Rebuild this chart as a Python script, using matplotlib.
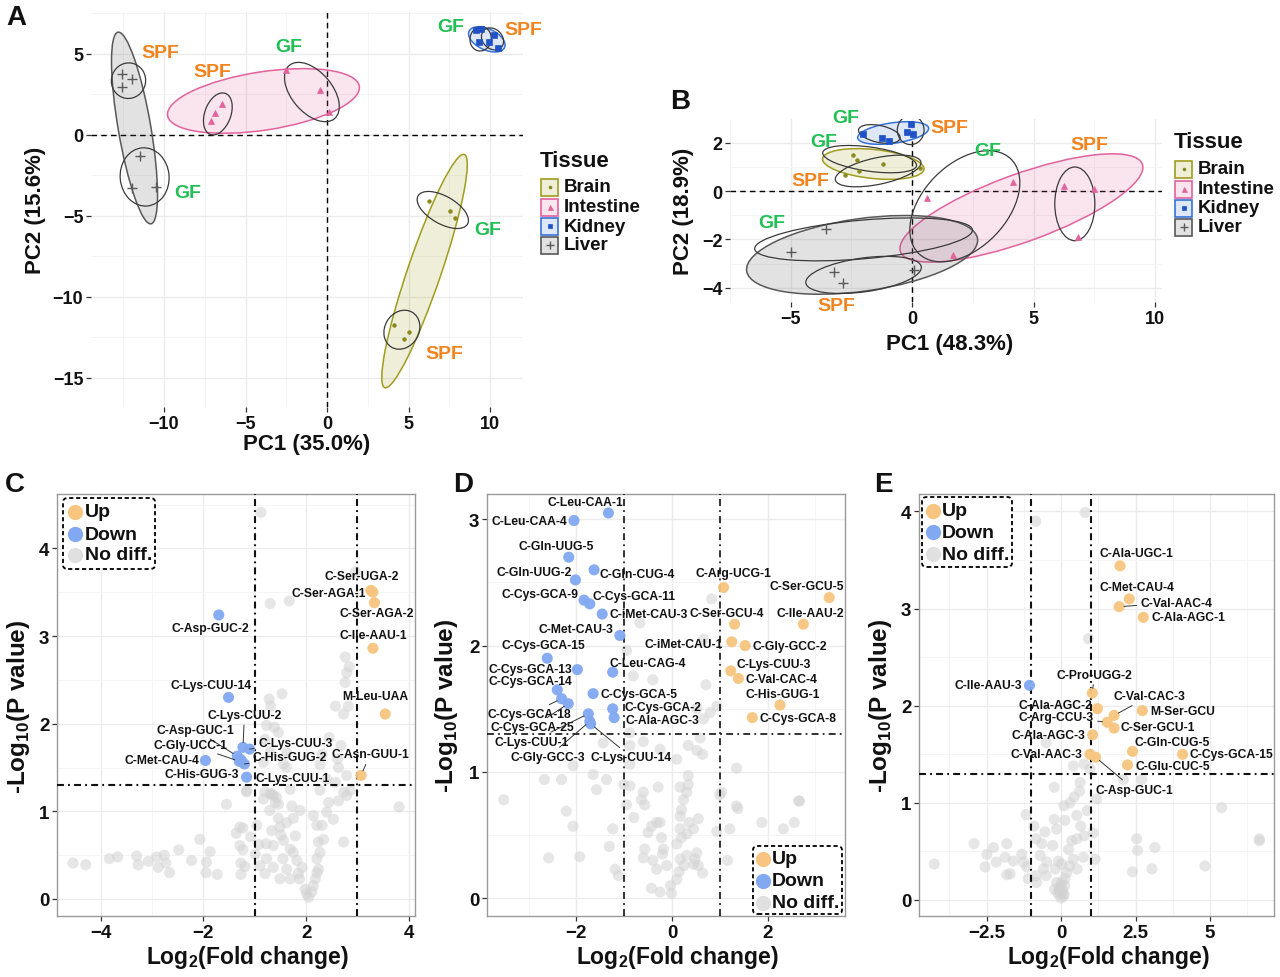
import matplotlib
matplotlib.use('Agg')
import matplotlib.pyplot as plt
from matplotlib.patches import Ellipse, FancyBboxPatch, Rectangle
from matplotlib.lines import Line2D
from matplotlib.colors import to_rgba

plt.rcParams['font.family'] = ['Liberation Sans', 'DejaVu Sans']
plt.rcParams['mathtext.fontset'] = 'custom'
plt.rcParams['mathtext.rm'] = 'Liberation Sans'
plt.rcParams['mathtext.bf'] = 'Liberation Sans:bold'
plt.rcParams['lines.scale_dashes'] = False

# ------------------------------------------------------------------ data
tissues = ['Brain', 'Intestine', 'Kidney', 'Liver']

# Panel A (PC1 35.0%, PC2 15.6%)
a_brain_x = [6.23, 7.56, 7.87, 4.12, 5.01, 4.71]
a_brain_y = [-4.09, -4.71, -5.12, -11.71, -12.18, -12.59]
a_int_x = [-6.44, -6.90, -7.12, -2.50, -0.46, 0.10]
a_int_y = [1.91, 1.36, 0.86, 4.01, 2.78, 1.40]
a_kid_x = [9.14, 9.45, 9.33, 9.94, 10.49, 10.25]
a_kid_y = [6.48, 6.54, 5.74, 5.74, 5.37, 6.17]
a_liv_x = [-12.56, -11.96, -12.58, -11.46, -11.96, -10.49]
a_liv_y = [3.77, 3.44, 2.96, -1.28, -3.27, -3.23]
# tissue ellipses: centre x, centre y, width, height, angle
a_big_cx = [5.98, -3.9, 9.8, -11.81]
a_big_cy = [-8.4, 2.1, 5.9, 0.43]
a_big_w = [15.2, 11.9, 2.4, 12.0]
a_big_h = [2.05, 3.6, 1.3, 2.0]
a_big_ang = [71.3, 8.75, -25, 99.7]
# group (GF / SPF) ellipses
a_sub_cx = [7.1, 4.59, -0.93, -6.7, 9.42, 10.15, -11.19, -12.18]
a_sub_cy = [-4.63, -12.02, 2.65, 1.3, 5.93, 5.93, -2.59, 3.35]
a_sub_w = [3.5, 2.5, 4.3, 2.7, 1.5, 1.5, 3.0, 2.2]
a_sub_h = [1.7, 2.1, 2.5, 1.6, 1.3, 1.2, 3.6, 2.1]
a_sub_ang = [-30, 60, -50, 70, 80, -45, 5, 80]
a_lab_text = ['SPF', 'GF', 'SPF', 'GF', 'GF', 'SPF', 'GF', 'SPF']
a_lab_x = [-10.24, -8.53, -7.06, -2.33, 7.6, 12.02, 9.85, 7.18]
a_lab_y = [5.12, -3.52, 3.89, 5.49, 6.67, 6.54, -5.86, -13.46]

# Panel B (PC1 48.3%, PC2 18.9%)
b_brain_x = [-2.45, -2.27, -1.18, -2.19, -2.76, 0.33]
b_brain_y = [1.50, 1.29, 1.12, 0.84, 0.66, 0.96]
b_int_x = [0.63, 4.16, 1.70, 6.26, 7.47, 6.82]
b_int_y = [-0.30, 0.38, -2.63, 0.22, 0.08, -1.89]
b_kid_x = [-2.02, -1.23, -0.97, -0.22, -0.06, 0.04]
b_kid_y = [2.38, 2.18, 2.05, 2.45, 2.77, 2.36]
b_liv_x = [-3.54, -5.00, -3.21, -2.86, 0.08]
b_liv_y = [-1.57, -2.53, -3.33, -3.80, -3.26]
b_big_cx = [-1.6, 4.5, -0.78, -2.06]
b_big_cy = [1.12, -0.7, 2.4, -2.64]
b_big_w = [4.2, 10.6, 2.95, 9.6]
b_big_h = [1.2, 2.8, 0.85, 3.0]
b_big_ang = [-6, 20, 8, 8]
b_sub_cx = [-1.75, -1.4, 2.17, 6.7, -1.35, -0.06, -2.0, -2.0]
b_sub_cy = [1.32, 0.83, -0.63, -0.53, 2.36, 2.52, -2.0, -3.47]
b_sub_w = [3.9, 3.6, 5.45, 1.65, 1.75, 1.1, 9.0, 4.8]
b_sub_h = [1.0, 1.1, 3.46, 3.05, 0.7, 1.2, 1.6, 1.4]
b_sub_ang = [-8, 12, 46, 0, -12, 0, 5, 8]
b_lab_text = ['GF', 'SPF', 'GF', 'SPF', 'GF', 'SPF', 'GF', 'SPF']
b_lab_x = [-2.72, 1.55, -3.65, -4.19, 3.13, 7.28, -5.77, -3.12]
b_lab_y = [3.05, 2.63, 2.04, 0.43, 1.69, 1.94, -1.29, -4.74]

# Panel C volcano
c_up_names = ['C-Ser-UGA-2', 'C-Ser-AGA-1', 'C-Ser-AGA-2', 'C-Ile-AAU-1', 'M-Leu-UAA', 'C-Asn-GUU-1']
c_up_x = [1.26, 1.30, 1.33, 1.30, 1.54, 1.07]
c_up_y = [3.52, 3.50, 3.38, 2.86, 2.11, 1.41]
c_down_names = ['C-Asp-GUC-2', 'C-Lys-CUU-14', 'C-Met-CAU-4', 'C-Lys-CUU-2', 'C-Lys-CUU-3',
                'C-Asp-GUC-1', 'C-Gly-UCC-1', 'C-His-GUG-2', 'C-His-GUG-3', 'C-Lys-CUU-1']
c_down_x = [-1.70, -1.51, -1.96, -1.23, -1.10, -1.34, -1.30, -1.20, -1.27, -1.16]
c_down_y = [3.24, 2.30, 1.58, 1.73, 1.71, 1.63, 1.57, 1.54, 1.59, 1.39]
c_gray_x = [-4.54, -4.29, -3.83, -3.67, -3.30, -3.27, -3.07, -2.91, -2.88, -2.76, -2.73, -2.66, -2.48,
            -2.23, -2.07, -1.95, -1.94, -1.87, -1.73, -1.55, -1.36, -1.29, -1.23, -1.29, -1.23, -1.27,
            -1.27, -1.19, -1.08, -0.99, -0.96, -0.92, -0.80, -0.78, -0.77, -0.71, -0.70, -0.64, -0.60,
            -0.54, -0.51, -0.49, -0.51, -0.44, -0.45, -0.38, -0.31, -0.31, -0.25, -0.21, -0.25, -0.28,
            -0.18, -0.15, -0.13, -0.08, -0.02, 0.01, 0.05, 0.11, 0.14, 0.21, 0.24, 0.18, 0.21, 0.27,
            0.24, 0.34, 0.31, 0.40, 0.44, 0.53, 0.63, 0.73, 0.79, 0.86, 1.81, 0.14, 0.21, -0.67, -0.90,
            -0.64, -0.54, -1.16, -0.83, -0.31, -0.12, -0.38, -0.64,
            -0.88, 0.96, -0.70, -0.33, 0.76, 0.84, 0.79, 0.76, -0.47, -0.72, -0.69, 0.57, 0.82, 0.73,
            -0.77, -0.62, -0.54, 0.45, 0.68, -0.80, -0.70, -0.38, 0.31, 0.61, -0.83, -0.44, -0.38, 0.63,
            0.27, 0.79, 0.40, 0.57, -1.16, -0.80, -0.67, -0.58, 0.27, 0.73]
c_gray_y = [0.41, 0.39, 0.46, 0.48, 0.49, 0.39, 0.43, 0.48, 0.36, 0.50, 0.41, 0.30, 0.56,
            0.44, 0.68, 0.30, 0.42, 0.54, 0.28, 1.08, 0.75, 0.82, 0.81, 0.61, 0.56, 0.41,
            0.28, 0.37, 0.71, 0.51, 0.84, 0.62, 0.29, 0.63, 0.46, 1.01, 1.20, 1.18, 1.10,
            0.92, 0.82, 0.73, 0.23, 0.67, 0.46, 0.34, 0.23, 0.57, 0.53, 0.72, 0.92, 1.06,
            0.44, 0.29, 0.23, 0.36, 0.11, 0.06, 0.02, 0.08, 0.15, 0.30, 0.34, 0.23, 0.46, 0.53,
            0.65, 0.68, 0.84, 0.99, 1.10, 0.91, 1.12, 0.65, 1.18, 1.24, 1.05, 0.95, 0.84, 0.78, 0.38,
            0.36, 1.08, 1.22, 1.14, 1.25, 1.01, 0.87, 0.61,
            4.41, 3.73, 3.37, 3.40, 2.76, 2.65, 2.58, 2.47, 2.34, 2.28, 2.20, 2.20, 2.20, 2.11,
            1.98, 1.96, 1.90, 1.84, 1.75, 1.82, 1.68, 1.67, 1.65, 1.60, 1.56, 1.54, 1.50, 1.50,
            1.53, 1.41, 1.37, 1.33, 1.24, 1.22, 1.20, 1.16, 1.24, 1.22]
c_xticks = [-4, -2, 0, 2]
c_xticklabels = ['\u22124', '\u22122', '2', '4']
c_yticks = [0, 1, 2, 3, 4]

# Panel D volcano
d_up_names = ['C-Arg-UCG-1', 'C-Ser-GCU-5', 'C-Ser-GCU-4', 'C-Ile-AAU-2', 'C-iMet-CAU-1', 'C-Gly-GCC-2',
              'C-Lys-CUU-3', 'C-Val-CAC-4', 'C-His-GUG-1', 'C-Cys-GCA-8']
d_up_x = [1.08, 3.29, 1.31, 2.75, 1.25, 1.53, 1.23, 1.39, 2.26, 1.68]
d_up_y = [2.46, 2.38, 2.17, 2.17, 2.03, 2.00, 1.80, 1.74, 1.53, 1.43]
d_down_names = ['C-Leu-CAA-1', 'C-Leu-CAA-4', 'C-Gln-UUG-5', 'C-Gln-CUG-4', 'C-Gln-UUG-2', 'C-Cys-GCA-9',
                'C-Cys-GCA-11', 'C-iMet-CAU-3', 'C-Met-CAU-3', 'C-Cys-GCA-15', 'C-Cys-GCA-13',
                'C-Leu-CAG-4', 'C-Cys-GCA-14', 'C-Cys-GCA-5', 'C-Cys-GCA-18', 'C-Cys-GCA-25',
                'C-Cys-GCA-2', 'C-Ala-AGC-3', 'C-Lys-CUU-1', 'C-Gly-GCC-3', 'C-Lys-CUU-14']
d_down_x = [-1.33, -2.05, -2.16, -1.63, -2.02, -1.84, -1.72, -1.46, -1.09, -2.61, -1.98, -1.24, -2.40,
            -1.65, -2.31, -2.17, -1.24, -1.21, -1.75, -1.72, -1.70]
d_down_y = [3.05, 2.99, 2.70, 2.60, 2.52, 2.36, 2.33, 2.25, 2.08, 1.90, 1.81, 1.79, 1.65, 1.62, 1.58,
            1.54, 1.50, 1.43, 1.46, 1.40, 1.38]
d_gray_x = [-3.52, -2.67, -2.31, -2.21, -2.07, -2.58, -1.93, -1.58, -1.37, -1.24, -1.31, -1.19, -1.12,
            -1.01, -0.95, -0.80, -0.64, -0.57, -0.50, -0.43, -0.32, -0.25, -0.22, -0.57, -0.60, -0.40,
            -0.32, -0.20, -0.11, -0.43, -0.25, -0.01, -0.03, 0.10, 0.15, 0.17, 0.31, 0.25, 0.45, 0.55,
            0.64, 0.52, 0.10, 0.20, 0.31, 0.45, 0.36, 0.55, 0.20, 0.31, 0.34, 0.17, 0.94, 1.16, 1.21,
            1.38, 1.88, 2.33, 2.56, 2.67, 1.04, 0.17, -0.18, 0.48,
            -1.44, -0.88, -0.60, -0.25, 0.34, 0.52, 0.64, 0.59, -0.88, 0.10, 0.34, 1.35, -2.07, -1.65,
            -0.88, -0.29, -0.60, 0.17, 0.24, 2.65, 1.35, 1.00,
            0.83, -0.67, -0.95, 0.66, -0.81, -0.40, 0.71, 0.52, 0.94, 0.66, 0.80, -0.88]
d_gray_y = [0.78, 0.94, 0.94, 0.69, 0.57, 0.32, 0.33, 0.86, 0.94, 0.55, 0.41, 0.23, 0.18,
            0.90, 0.74, 0.64, 0.78, 0.74, 0.52, 0.57, 0.60, 0.60, 0.48, 0.39, 0.32, 0.30,
            0.23, 0.35, 0.26, 0.08, 0.05, 0.04, 0.10, 0.15, 0.21, 0.31, 0.34, 0.26, 0.27, 0.26,
            0.20, 0.36, 0.43, 0.48, 0.51, 0.55, 0.60, 0.63, 0.70, 0.84, 0.90, 0.55, 0.53, 0.30, 0.55,
            0.71, 0.60, 0.55, 0.60, 0.77, 0.84, 0.65, 0.39, 0.31,
            1.23, 1.21, 1.24, 1.18, 1.21, 1.17, 1.14, 1.27, 1.06, 1.10, 0.97, 1.03, 1.05, 0.98,
            0.89, 0.88, 0.84, 0.88, 0.78, 0.77, 0.73, 0.82,
            2.37, 2.18, 1.96, 2.05, 1.76, 1.73, 1.69, 1.50, 1.52, 1.42, 1.47, 1.31]
d_xticks = [-2, 0, 2]
d_xticklabels = ['\u22122', '0', '2']
d_yticks = [0, 1, 2, 3]

# Panel E volcano
e_up_names = ['C-Ala-UGC-1', 'C-Met-CAU-4', 'C-Val-AAC-4', 'C-Ala-AGC-1', 'C-Pro-UGG-2', 'C-Ala-AGC-2',
              'C-Val-CAC-3', 'M-Ser-GCU', 'C-Arg-CCU-3', 'C-Ser-GCU-1', 'C-Ala-AGC-3', 'C-Gln-CUG-5',
              'C-Cys-GCA-15', 'C-Val-AAC-3', 'C-Asp-GUC-1', 'C-Glu-CUC-5']
e_up_x = [1.98, 2.29, 1.95, 2.76, 1.05, 1.22, 1.78, 2.73, 1.55, 1.78, 1.06, 2.40, 4.08, 0.97, 1.16, 2.23]
e_up_y = [3.44, 3.10, 3.02, 2.91, 2.13, 1.97, 1.90, 1.95, 1.83, 1.77, 1.70, 1.53, 1.50, 1.50, 1.47, 1.39]
e_down_names = ['C-Ile-AAU-3']
e_down_x = [-1.06]
e_down_y = [2.21]
e_gray_x = [-4.26, -2.92, -2.49, -2.27, -2.55, -2.18, -1.82, -1.82, -1.71, -1.88, -1.60, -1.32, -1.26,
            -1.17, -1.15, -1.10, -0.91, -0.84, -0.65, -0.70, -0.54, -0.48, -0.59, -0.84, -0.82, -0.50,
            -0.23, -0.23, -0.15, -0.28, -0.09, -0.20, 0.02, 0.13, 0.10, 0.30, 0.44, 0.53, 0.62, 0.64,
            0.66, 0.53, 0.36, 0.25, 0.41, 0.28, 0.53, 0.19, 0.75, 0.77, 1.08, 1.14, 1.20, 0.88, -0.22,
            -0.03, 0.02, -0.09, 0.08, -0.01, -0.15, 0.13, 2.54, 2.57, 3.15, 2.40, 3.05, 4.83, 5.39, 6.66,
            6.66, 0.81, -0.85, 0.92, -0.50, 0.41, 0.77, 2.09, 2.71, 0.97,
            0.00, 0.05, -0.05, 0.10, -0.10, 0.02, 0.12]
e_gray_y = [0.37, 0.58, 0.47, 0.54, 0.34, 0.39, 0.58, 0.26, 0.27, 0.44, 0.40, 0.47, 0.39,
            0.88, 0.34, 0.22, 0.76, 0.63, 0.58, 0.46, 0.70, 0.39, 0.32, 0.25, 0.18, 0.25,
            1.16, 0.83, 0.73, 0.56, 0.40, 0.32, 0.37, 0.82, 0.97, 1.00, 1.06, 0.87, 1.12, 1.21,
            0.76, 0.63, 0.61, 0.52, 0.42, 0.35, 0.32, 0.28, 0.44, 0.66, 0.69, 0.42, 1.04, 0.92, 0.11,
            0.11, 0.08, 0.06, 0.04, 0.15, 0.18, 0.22, 0.63, 0.51, 0.54, 0.29, 0.32, 0.35, 0.95, 0.63,
            0.61, 3.99, 3.90, 2.69, 1.62, 1.38, 1.40, 1.24, 1.24, 1.35,
            0.02, 0.10, 0.12, 0.06, 0.08, 0.18, 0.15]
e_xticks = [-2.5, 0, 2.5, 5]
e_xticklabels = ['\u22122.5', '0', '2.5', '5']
e_yticks = [0, 1, 2, 3, 4]

# ------------------------------------------------------------------ styles / layout
W, H = 1280, 978
fig = plt.figure(figsize=(12.8, 9.78), dpi=100)


def fx(px):
    return px / W


def fy(py):
    return 1 - py / H


def axes_px(l, t, r, b):
    return fig.add_axes([l / W, 1 - b / H, (r - l) / W, (b - t) / H])


T_EDGE = {'Brain': '#A09C1E', 'Intestine': '#E2629C', 'Kidney': '#3772D8', 'Liver': '#585858'}
T_PT = {'Brain': '#8A871A', 'Intestine': '#E2629C', 'Kidney': '#1F52C6', 'Liver': '#5A5A5A'}
T_MK = {'Brain': ('o', 2.6, 0.5), 'Intestine': ('^', 4.5, 0.5), 'Kidney': ('s', 4.2, 0.5),
        'Liver': ('+', 7.5, 1.0)}
GF_COL = '#22BF55'
SPF_COL = '#F2841F'
UP_COL = '#F7C57F'
DOWN_COL = '#82A8F2'
ND_COL = '#D2D2D2'
TXT = '#111111'


def style_ticks(ax, size=13):
    ax.tick_params(which='major', length=3.5, width=0.9, color='#333333', labelsize=size,
                   labelcolor=TXT, pad=2)
    ax.tick_params(which='minor', length=0)
    for lbl in ax.get_xticklabels() + ax.get_yticklabels():
        lbl.set_fontweight('bold')


def draw_pca(ax, xlim, ylim, xt, yt, xminor, yminor, pts, big, sub, labs):
    ax.set_xlim(xlim)
    ax.set_ylim(ylim)
    for s in ax.spines.values():
        s.set_visible(False)
    ax.set_xticks(xt)
    ax.set_yticks(yt)
    ax.set_xticks(xminor, minor=True)
    ax.set_yticks(yminor, minor=True)
    ax.grid(which='major', color='#EBEBEB', lw=1.0)
    ax.grid(which='minor', color='#F3F3F3', lw=0.6)
    ax.set_axisbelow(True)
    style_ticks(ax)
    ax.axhline(0, color='black', lw=1.0, ls=(0, (4, 3)), zorder=1.5)
    ax.axvline(0, color='black', lw=1.0, ls=(0, (4, 3)), zorder=1.5)
    cx, cy, w, h, ang = big
    for i, t in enumerate(tissues):
        ax.add_patch(Ellipse((cx[i], cy[i]), w[i], h[i], angle=ang[i],
                             facecolor=to_rgba(T_EDGE[t], 0.17), edgecolor=T_EDGE[t], lw=1.1, zorder=2))
    cx, cy, w, h, ang = sub
    for i in range(len(cx)):
        ax.add_patch(Ellipse((cx[i], cy[i]), w[i], h[i], angle=ang[i],
                             facecolor='none', edgecolor='#3A3A3A', lw=0.9, zorder=3))
    for t, (xs, ys) in zip(tissues, pts):
        m, ms, mew = T_MK[t]
        ax.plot(xs, ys, ls='none', marker=m, ms=ms, mew=mew, color=T_PT[t], zorder=4)
    tx, lx, ly = labs
    for t, x, y in zip(tx, lx, ly):
        ax.text(x, y, t, color=GF_COL if t == 'GF' else SPF_COL, fontsize=14, fontweight='bold',
                ha='center', va='center', clip_on=False, zorder=5)


def tissue_legend(x0, ytitle, ys):
    fig.text(fx(x0), fy(ytitle), 'Tissue', fontsize=16, fontweight='bold', color=TXT,
             ha='left', va='center')
    for t, yc in zip(tissues, ys):
        fig.add_artist(Rectangle((fx(x0 + 1), fy(yc + 8.5)), 17 / W, 17 / H, transform=fig.transFigure,
                                 facecolor=to_rgba(T_EDGE[t], 0.17), edgecolor=T_EDGE[t], lw=1.2))
        m, ms, mew = T_MK[t]
        fig.add_artist(Line2D([fx(x0 + 9.5)], [fy(yc)], marker=m, ms=ms * 0.8, mew=mew, color=T_PT[t],
                              ls='none', transform=fig.transFigure))
        fig.text(fx(x0 + 24), fy(yc), t, fontsize=13.5, fontweight='bold', color=TXT, ha='left',
                 va='center')


DASHDOT = (0, (5, 3, 1.3, 3))


def draw_volcano(ax, xlim, ylim, xt, xtl, yt, xminor, yminor, gray, up, down, offs, segs, vlw):
    ax.set_xlim(xlim)
    ax.set_ylim(ylim)
    ax.set_xticks(xt)
    ax.set_xticklabels(xtl)
    ax.set_yticks(yt)
    ax.set_xticks(xminor, minor=True)
    ax.set_yticks(yminor, minor=True)
    ax.grid(which='major', color='#EBEBEB', lw=1.0)
    ax.grid(which='minor', color='#F4F4F4', lw=0.6)
    ax.set_axisbelow(True)
    for s in ax.spines.values():
        s.set_color('#9A9A9A')
        s.set_linewidth(1.0)
    style_ticks(ax, 13.5)
    ax.scatter(gray[0], gray[1], s=64, color=ND_COL, alpha=0.55, edgecolors='none', zorder=2)
    ax.axvline(-1, color='#111111', lw=vlw, ls=DASHDOT, zorder=3)
    ax.axvline(1, color='#111111', lw=vlw, ls=DASHDOT, zorder=3)
    ax.axhline(1.301, color='#111111', lw=vlw, ls=DASHDOT, zorder=3)
    for names, xs, ys, col in (up + (UP_COL,), down + (DOWN_COL,)):
        ax.scatter(xs, ys, s=64, color=col, alpha=0.95, edgecolors='none', zorder=4)
        for n, x, y in zip(names, xs, ys):
            dx, dy = offs[n]
            ap = dict(arrowstyle='-', color='#333333', lw=0.7, shrinkA=1, shrinkB=3.5) if n in segs else None
            ax.annotate(n, (x, y), xytext=(dx, dy), textcoords='offset pixels', ha='center',
                        va='center', fontsize=8.7, fontweight='bold', color=TXT, arrowprops=ap,
                        zorder=5)


def volcano_legend(x0, y0, x1, y1, cx, tx, ys):
    fig.add_artist(FancyBboxPatch((fx(x0), fy(y1)), (x1 - x0) / W, (y1 - y0) / H,
                                  boxstyle='round,pad=0,rounding_size=0.004', transform=fig.transFigure,
                                  facecolor='white', edgecolor='black', lw=1.3, ls=(0, (3, 2)),
                                  zorder=6))
    for lab, col, yc in zip(['Up', 'Down', 'No diff.'], [UP_COL, DOWN_COL, '#E0E0E0'], ys):
        fig.add_artist(Line2D([fx(cx)], [fy(yc)], marker='o', ms=11, color=col, mew=0, ls='none',
                              transform=fig.transFigure, zorder=7))
        fig.text(fx(tx), fy(yc), lab, fontsize=14, fontweight='bold', color=TXT, ha='left',
                 va='center', zorder=7)


# ------------------------------------------------------------------ panel A
axA = axes_px(91, 13, 523, 408)
draw_pca(axA, (-14.48, 12.02), (-16.79, 7.59), [-10, -5, 0, 5, 10], [-15, -10, -5, 0, 5],
         [-12.5, -7.5, -2.5, 2.5, 7.5], [-12.5, -7.5, -2.5, 2.5, 7.5],
         [(a_brain_x, a_brain_y), (a_int_x, a_int_y), (a_kid_x, a_kid_y), (a_liv_x, a_liv_y)],
         (a_big_cx, a_big_cy, a_big_w, a_big_h, a_big_ang),
         (a_sub_cx, a_sub_cy, a_sub_w, a_sub_h, a_sub_ang),
         (a_lab_text, a_lab_x, a_lab_y))
tissue_legend(540, 162, [188, 208, 227, 246])
fig.text(fx(307), fy(445), 'PC1 (35.0%)', fontsize=16, fontweight='bold', color=TXT, ha='center',
         va='center')
fig.text(fx(35), fy(210), 'PC2 (15.6%)', fontsize=16, fontweight='bold', color=TXT, ha='center',
         va='center', rotation=90)

# ------------------------------------------------------------------ panel B
axB = axes_px(730, 120, 1162, 303)
draw_pca(axB, (-7.49, 10.29), (-4.59, 2.98), [-5, 0, 5, 10], [-4, -2, 0, 2],
         [-7.5, -2.5, 2.5, 7.5], [-3, -1, 1],
         [(b_brain_x, b_brain_y), (b_int_x, b_int_y), (b_kid_x, b_kid_y), (b_liv_x, b_liv_y)],
         (b_big_cx, b_big_cy, b_big_w, b_big_h, b_big_ang),
         (b_sub_cx, b_sub_cy, b_sub_w, b_sub_h, b_sub_ang),
         (b_lab_text, b_lab_x, b_lab_y))
tissue_legend(1174, 143, [170, 190, 209, 228])
fig.text(fx(950), fy(345), 'PC1 (48.3%)', fontsize=16, fontweight='bold', color=TXT, ha='center',
         va='center')
fig.text(fx(683), fy(211), 'PC2 (18.9%)', fontsize=16, fontweight='bold', color=TXT, ha='center',
         va='center', rotation=90)

# ------------------------------------------------------------------ label offsets (pixels)
c_offs = {'C-Ser-UGA-2': (-9, 14.4), 'C-Ser-AGA-1': (-44.4, -0.6), 'C-Ser-AGA-2': (2.7, -10.7),
          'C-Ile-AAU-1': (0.6, 13.6), 'M-Leu-UAA': (-10, 18.3), 'C-Asn-GUU-1': (9, 21),
          'C-Asp-GUC-2': (-8.3, -13.3), 'C-Lys-CUU-14': (-17.6, 12), 'C-Met-CAU-4': (-44, 0),
          'C-Lys-CUU-2': (1.6, 32.3), 'C-Lys-CUU-3': (45.7, 6), 'C-Asp-GUC-1': (-42.3, 26.6),
          'C-Gly-UCC-1': (-48.6, 16.7), 'C-His-GUG-2': (45.7, 6.7), 'C-His-GUG-3': (-39, -14.3),
          'C-Lys-CUU-1': (46.6, -1)}
c_segs = ['C-Asn-GUU-1', 'C-Lys-CUU-2', 'C-Lys-CUU-3', 'C-Asp-GUC-1', 'C-Gly-UCC-1', 'C-His-GUG-2']
d_offs = {'C-Leu-CAA-1': (-23.3, 10.6), 'C-Leu-CAA-4': (-45, 0), 'C-Gln-UUG-5': (-12.3, 11.3),
          'C-Gln-CUG-4': (42.7, -4.3), 'C-Gln-UUG-2': (-41.7, 8.3), 'C-Cys-GCA-9': (-44, 6.4),
          'C-Cys-GCA-11': (44.3, 8), 'C-iMet-CAU-3': (46, -0.3), 'C-Met-CAU-3': (-44, 6.7),
          'C-Cys-GCA-15': (-4, 13.6), 'C-Cys-GCA-13': (-47.3, 0.7), 'C-Leu-CAG-4': (34.6, 9.4),
          'C-Cys-GCA-14': (-27.3, 9.3), 'C-Cys-GCA-5': (46, 0), 'C-Cys-GCA-18': (-31.7, -15.3),
          'C-Cys-GCA-25': (-35.6, -23.3), 'C-Cys-GCA-2': (50.6, 1.7), 'C-Ala-AGC-3': (48.7, -2.4),
          'C-Lys-CUU-1': (-56.6, -27.7), 'C-Gly-GCC-3': (-41.7, -35.6), 'C-Lys-CUU-14': (40.7, -33.3),
          'C-Arg-UCG-1': (9.4, 14.3), 'C-Ser-GCU-5': (-22.3, 11.6), 'C-Ser-GCU-4': (-7.6, 11),
          'C-Ile-AAU-2': (6.7, 11), 'C-iMet-CAU-1': (-48.4, -2), 'C-Gly-GCC-2': (45, 0),
          'C-Lys-CUU-3': (42.6, 6.7), 'C-Val-CAC-4': (43.4, -0.7), 'C-His-GUG-1': (2.7, 11.4),
          'C-Cys-GCA-8': (45.4, -0.7)}
d_segs = ['C-Cys-GCA-18', 'C-Cys-GCA-25', 'C-Lys-CUU-1', 'C-Gly-GCC-3', 'C-Lys-CUU-14']
e_offs = {'C-Ala-UGC-1': (16.7, 12.7), 'C-Met-CAU-4': (8, 12.3), 'C-Val-AAC-4': (57.7, 4),
          'C-Ala-AGC-1': (45, 0), 'C-Pro-UGG-2': (2, 18.6), 'C-Ile-AAU-3': (-41.6, 0),
          'C-Val-CAC-3': (35.3, 19.3), 'C-Ala-AGC-2': (-42.3, 3.6), 'M-Ser-GCU': (40.4, -0.7),
          'C-Arg-CCU-3': (-51.3, 5.6), 'C-Ser-GCU-1': (43.7, 0.7), 'C-Ala-AGC-3': (-44.4, 0),
          'C-Gln-CUG-5': (39.6, 9), 'C-Cys-GCA-15': (49, 0), 'C-Val-AAC-3': (-43.3, 0),
          'C-Asp-GUC-1': (38.3, -32.3), 'C-Glu-CUC-5': (45, -1)}
e_segs = ['C-Val-AAC-4', 'C-Pro-UGG-2', 'C-Val-CAC-3', 'C-Arg-CCU-3', 'C-Asp-GUC-1']

# ------------------------------------------------------------------ panels C, D, E
axC = axes_px(57, 495, 415, 917)
draw_volcano(axC, (-4.85, 2.12), (-0.194, 4.62), c_xticks, c_xticklabels, c_yticks,
             [-3, -1, 1], [0.5, 1.5, 2.5, 3.5, 4.5], (c_gray_x, c_gray_y),
             (c_up_names, c_up_x, c_up_y), (c_down_names, c_down_x, c_down_y), c_offs, c_segs, 1.5)
volcano_legend(63, 499, 155, 570, 75, 85, [513, 535, 556])

axD = axes_px(487, 495, 845, 917)
draw_volcano(axD, (-3.87, 3.62), (-0.14, 3.20), d_xticks, d_xticklabels, d_yticks,
             [-3, -1, 1, 3], [0.5, 1.5, 2.5], (d_gray_x, d_gray_y),
             (d_up_names, d_up_x, d_up_y), (d_down_names, d_down_x, d_down_y), d_offs, d_segs, 1.2)
volcano_legend(753, 847, 842, 915, 763, 772, [860, 882, 904])

axE = axes_px(919, 495, 1274, 917)
draw_volcano(axE, (-4.77, 7.15), (-0.165, 4.18), e_xticks, e_xticklabels, e_yticks,
             [-3.75, -1.25, 1.25, 3.75, 6.25], [0.5, 1.5, 2.5, 3.5], (e_gray_x, e_gray_y),
             (e_up_names, e_up_x, e_up_y), (e_down_names, e_down_x, e_down_y), e_offs, e_segs, 1.5)
volcano_legend(922, 498, 1012, 568, 933, 942, [512, 533, 555])

xlab = 'Log$_{\\mathbf{2}}$(Fold change)'
ylab = '-Log$_{\\mathbf{10}}$(P value)'
for xc, yc in [(247, 958), (677, 958), (1108, 958)]:
    fig.text(fx(xc), fy(yc), xlab, fontsize=16.5, fontweight='bold', color=TXT, ha='center', va='center')
for xc, yc in [(19, 707), (447, 706), (880, 706)]:
    fig.text(fx(xc), fy(yc), ylab, fontsize=17.5, fontweight='bold', color=TXT, ha='center', va='center',
             rotation=90)

# panel letters
for lt, xc, yc in [('A', 16, 18), ('B', 680, 102), ('C', 15, 485), ('D', 463, 485), ('E', 883, 485)]:
    fig.text(fx(xc), fy(yc), lt, fontsize=20, fontweight='bold', color=TXT, ha='center', va='center')

fig.savefig('out.png', dpi=100)
